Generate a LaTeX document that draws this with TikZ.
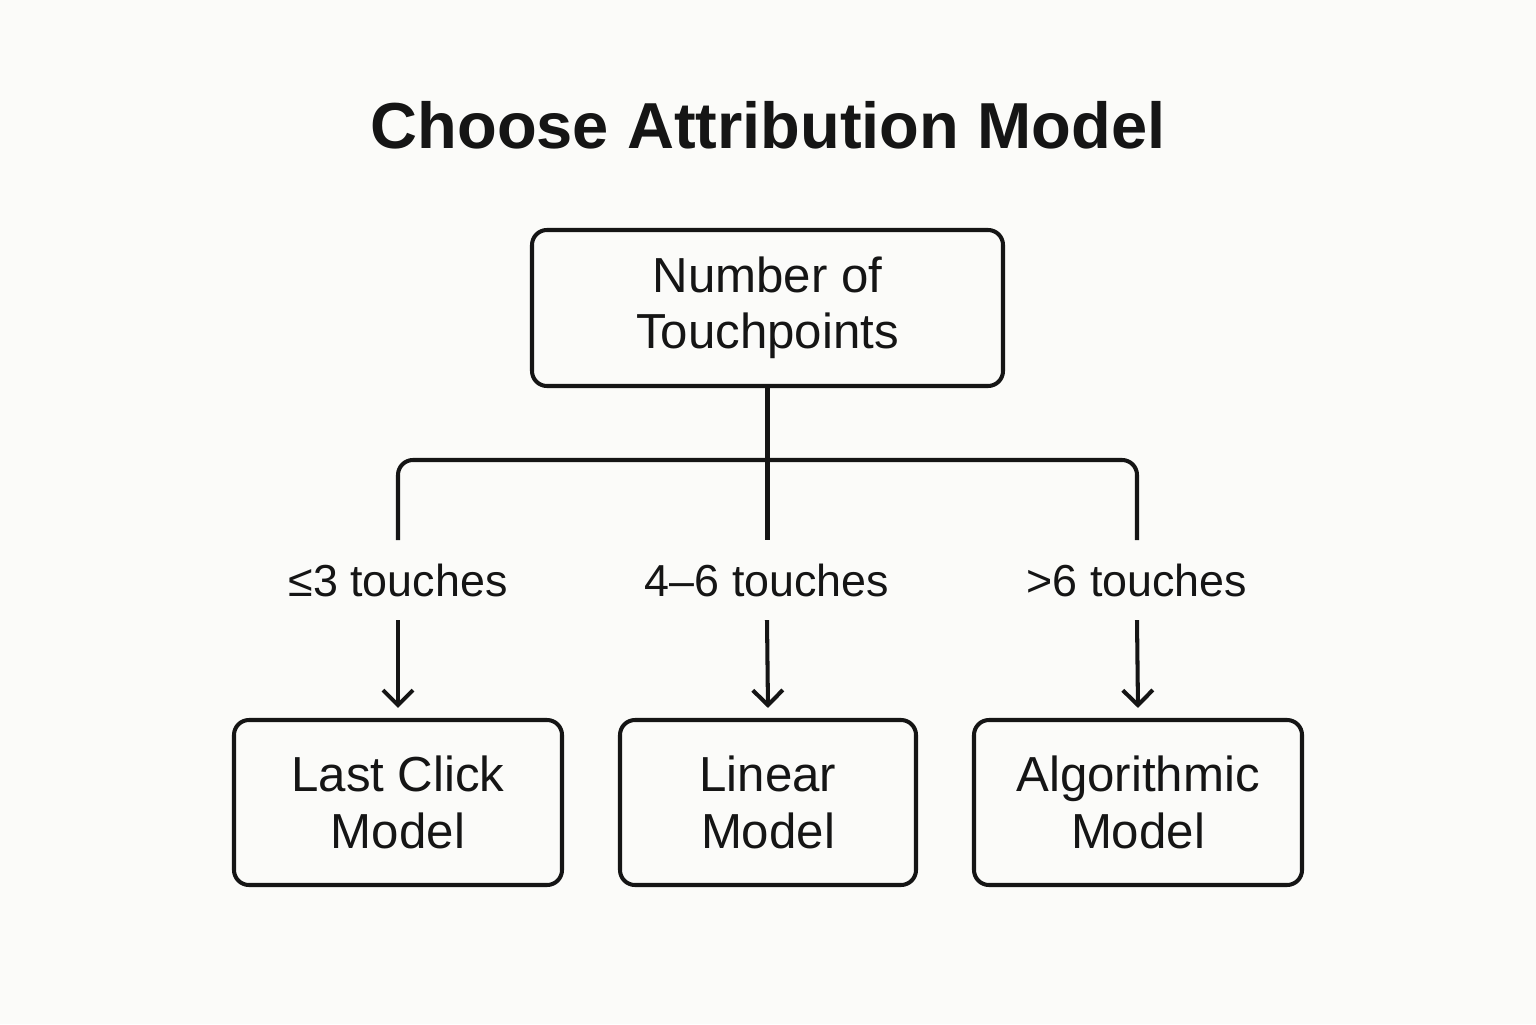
\documentclass[tikz,border=0pt]{standalone}
\usepackage{fontspec}
\setmainfont{Liberation Sans}
\usetikzlibrary{arrows.meta}
\definecolor{paper}{HTML}{FBFBF9}
\definecolor{ink}{HTML}{151515}
\tikzset{
  modelbox/.style={draw=ink, line width=2.3pt, rounded corners=0.3cm, align=center,
    font=\fontsize{28}{32}\selectfont, text=ink},
  touchlabel/.style={font=\fontsize{25.5}{28}\selectfont, text=ink},
  branch/.style={draw=ink, line width=2.3pt},
}
\begin{document}
\begin{tikzpicture}
\fill[paper] (0,0) rectangle (30.72,20.48);
\useasboundingbox (0,0) rectangle (30.72,20.48);
\node[font=\fontsize{37}{42}\selectfont\bfseries, text=ink] (title) at (15.36,17.98) {Choose Attribution Model};
\node[modelbox, minimum width=9.42cm, minimum height=3.12cm] (touch) at (15.35,14.32) {Number of\\Touchpoints};
\coordinate (hub) at (15.35,11.28);
\coordinate (left) at (7.96,9.68);
\coordinate (right) at (22.74,9.68);
\coordinate (mid) at (15.35,9.68);
\node[touchlabel] (lone) at (7.96,8.88) {≤3 touches};
\node[touchlabel] (ltwo) at (15.34,8.88) {4–6 touches};
\node[touchlabel] (lthree) at (22.74,8.88) {>6 touches};
\node[modelbox, minimum width=6.56cm, minimum height=3.3cm] (last) at (7.96,4.43) {Last Click\\Model};
\node[modelbox, minimum width=5.92cm, minimum height=3.3cm] (linear) at (15.36,4.43) {Linear\\Model};
\node[modelbox, minimum width=6.56cm, minimum height=3.3cm] (algo) at (22.76,4.43) {Algorithmic\\Model};
% tree
\draw[branch] (touch.south) -- (mid);
\draw[branch, rounded corners=0.3cm] (left) |- (hub) -| (right);
% arrows
\foreach \lab/\target in {lone/last, ltwo/linear, lthree/algo}
  \draw[branch, -{Straight Barb[length=0.3cm, width=0.6cm]}] ([yshift=-0.35cm]\lab.south) -- ([yshift=0.2cm]\target.north);
\end{tikzpicture}
\end{document}
